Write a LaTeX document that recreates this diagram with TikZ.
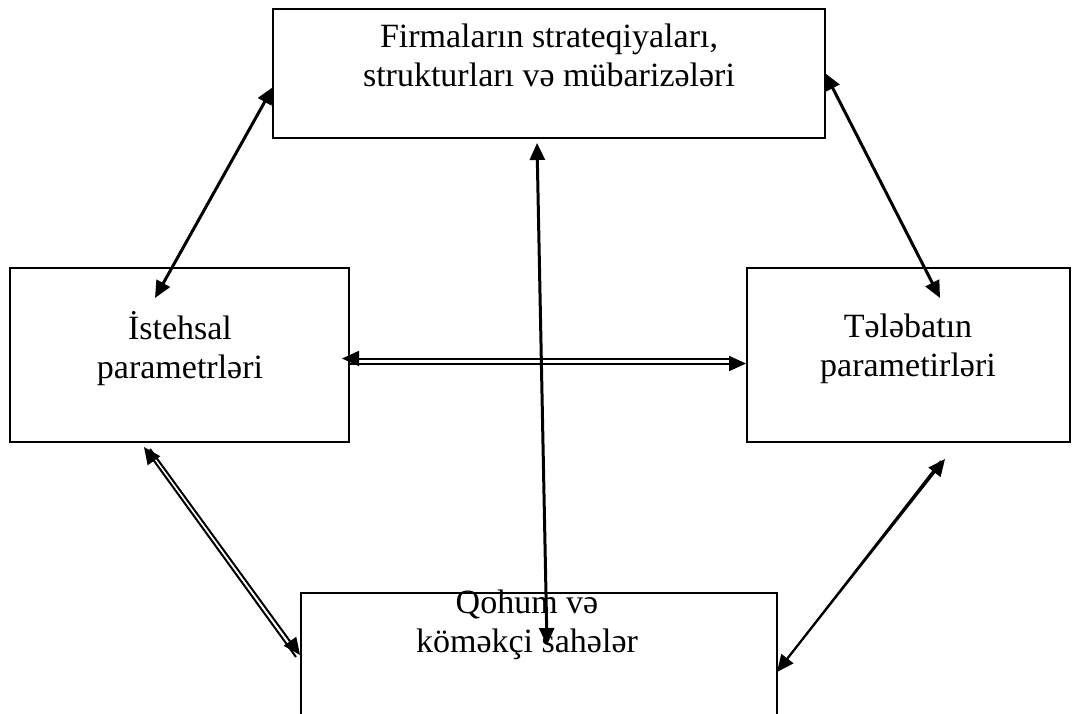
\documentclass[tikz,border=0pt]{standalone}
\usepackage{fontspec}
\setmainfont{Liberation Serif}
\usetikzlibrary{arrows.meta}
\begin{document}
\begin{tikzpicture}[x=1pt,y=-1pt,
  boxnode/.style={draw,line width=2.8pt,inner sep=0pt,outer sep=0pt,anchor=north west},
  txt/.style={align=center,font=\fontsize{34}{39}\selectfont,inner sep=0pt},
  conn/.style={line width=3pt},
  thin/.style={line width=2pt,-{Triangle[length=17pt,width=15pt]}}]
\useasboundingbox (0,0) rectangle (1079,713);
\clip (0,0) rectangle (1079,713);
\fill[white] (0,0) rectangle (1079,713);
% boxes
\node[boxnode,minimum width=552pt,minimum height=129pt] (top) at (273,9) {};
\node[boxnode,minimum width=339pt,minimum height=174pt] (left) at (10,268) {};
\node[boxnode,minimum width=323pt,minimum height=174pt] (right) at (747,268) {};
\node[boxnode,minimum width=476pt,minimum height=160pt] (bottom) at (301,593) {};
% texts
\node[txt] (ttop) at (549,55) {Firmaların strateqiyaları,\\strukturları və mübarizələri};
\node[txt] (tleft) at (180,349) {İstehsal\\parametrləri};
\node[txt] (tright) at (908,349) {Tələbatın\\parametirləri};
\node[txt] (tbottom) at (527,625) {Qohum və\\köməkçi sahələr};
% connector end points
\coordinate (tlA) at (273,87);
\coordinate (tlB) at (155,298);
\coordinate (trA) at (825,73);
\coordinate (trB) at (940,298);
\coordinate (cA) at (537,143);
\coordinate (cB) at (547,645);
\coordinate (hL) at (342,358.5);
\coordinate (hLs) at (730,358.5);
\coordinate (hR) at (746,363.5);
\coordinate (hRs) at (349,363.5);
\coordinate (blA) at (144,447);
\coordinate (blAs) at (296,657);
\coordinate (blB) at (300,655);
\coordinate (blBs) at (150,449);
\coordinate (brA) at (945,459);
\coordinate (brAs) at (779,669);
\coordinate (brB) at (777,672);
\coordinate (brBs) at (941,461);
% connectors
\draw[conn,{Triangle[length=17pt,width=15pt]}-{Triangle[length=17pt,width=15pt]}] (tlA) -- (tlB);
\draw[conn,{Triangle[length=17pt,width=15pt]}-{Triangle[length=17pt,width=15pt]}] (trA) -- (trB);
\draw[conn,{Triangle[length=17pt,width=15pt]}-{Triangle[length=17pt,width=15pt]}] (cA) -- (cB);
\draw[thin] (hLs) -- (hL);
\draw[thin] (hRs) -- (hR);
\draw[thin] (blAs) -- (blA);
\draw[thin] (blBs) -- (blB);
\draw[thin] (brAs) -- (brA);
\draw[thin] (brBs) -- (brB);
\end{tikzpicture}
\end{document}
